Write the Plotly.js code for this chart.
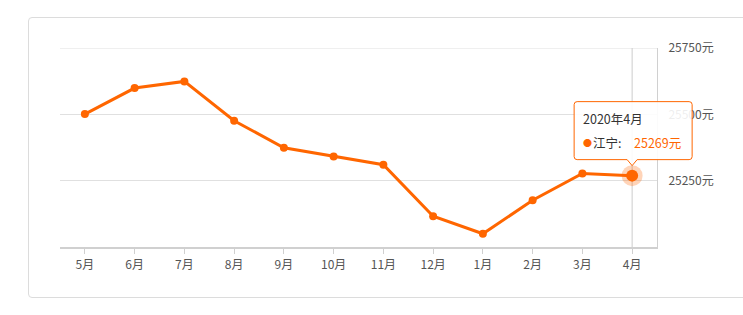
<!DOCTYPE html>
<html>
<head>
<meta charset="utf-8">
<script src="https://cdn.plot.ly/plotly-3.0.1.min.js"></script>
<style>
html,body{margin:0;padding:0;background:#fff;}
#wrap{position:relative;width:743px;height:315px;overflow:hidden;}
#frame{position:absolute;left:28px;top:17px;width:760px;height:281px;border:1px solid #dcdcdc;border-radius:4px;box-sizing:border-box;}
#chart{position:absolute;left:0;top:0;width:743px;height:315px;}
</style>
</head>
<body>
<div id="wrap"><div id="frame"></div><div id="chart"></div></div>
<script>
var months = ['5月','6月','7月','8月','9月','10月','11月','12月','1月','2月','3月','4月'];
var prices = [25501, 25599, 25624, 25476, 25374, 25341, 25310, 25116, 25050, 25176, 25277, 25269];
var yTickVals = [25250, 25500, 25750];
var yTickText = ['25250元', '25500元', '25750元'];
var seriesName = '江宁';
var tipTitle = '2020年4月';

var orange = '#ff6600';
var font = '"Noto Sans CJK SC", "Microsoft YaHei", sans-serif';
var lastIdx = prices.length - 1;
var lastVal = prices[lastIdx];
var yMin = 25000, yMax = 25750;
var xMin = -0.5, xMax = months.length - 0.5;
var px = (lastIdx - xMin) / (xMax - xMin);
var py = (lastVal - yMin) / (yMax - yMin);

var traces = [
  {
    x: months, y: prices, type: 'scatter', mode: 'lines+markers',
    line: {color: orange, width: 3},
    marker: {color: orange, size: 8},
    hoverinfo: 'skip', cliponaxis: false
  },
  {
    x: [months[lastIdx]], y: [lastVal], type: 'scatter', mode: 'markers',
    marker: {color: 'rgba(255,102,0,0.28)', size: 21},
    hoverinfo: 'skip', cliponaxis: false
  },
  {
    x: [months[lastIdx]], y: [lastVal], type: 'scatter', mode: 'markers',
    marker: {color: orange, size: 12},
    hoverinfo: 'skip', cliponaxis: false
  }
];

var tipPath = 'M -55,16 L -5,16 L 0,10 L 5,16 L 57,16 Q 60,16 60,19 L 60,71 Q 60,74 57,74 L -55,74 Q -58,74 -58,71 L -58,19 Q -58,16 -55,16 Z';

var layout = {
  width: 743, height: 315,
  margin: {l: 60, r: 86, t: 47.5, b: 67.5},
  paper_bgcolor: 'rgba(0,0,0,0)', plot_bgcolor: 'rgba(0,0,0,0)',
  showlegend: false, hovermode: false,
  font: {family: font, size: 12, color: '#555'},
  xaxis: {
    type: 'category', range: [xMin, xMax], fixedrange: true,
    showgrid: false, zeroline: false,
    showline: true, linecolor: '#d0d0d0', linewidth: 2,
    ticks: 'outside', ticklen: 5, tickcolor: '#d0d0d0', tickwidth: 1,
    tickfont: {family: font, size: 12, color: '#555'},
    ticklabelstandoff: 1
  },
  yaxis: {
    side: 'right', range: [yMin, yMax], fixedrange: true,
    tickvals: yTickVals, ticktext: yTickText,
    showgrid: true, gridcolor: '#e0e0e0', gridwidth: 1,
    zeroline: false, showline: true, linecolor: '#d0d0d0', linewidth: 1,
    ticks: '', ticklabelstandoff: 8,
    tickfont: {family: font, size: 12, color: '#555'}
  },
  shapes: [
    {type: 'line', xref: 'paper', yref: 'y', x0: 0, x1: 1,
     y0: yTickVals[yTickVals.length - 1], y1: yTickVals[yTickVals.length - 1],
     line: {color: '#e0e0e0', width: 1}, layer: 'below'},
    {type: 'line', xref: 'x', yref: 'paper', x0: lastIdx, x1: lastIdx, y0: 0, y1: 1,
     line: {color: '#cccccc', width: 1}, layer: 'below'},
    {type: 'path', xref: 'paper', yref: 'paper', xsizemode: 'pixel', ysizemode: 'pixel',
     xanchor: px, yanchor: py, path: tipPath,
     fillcolor: 'rgba(255,255,255,0.9)', line: {color: orange, width: 1}, layer: 'above'}
  ],
  annotations: [
    {xref: 'x', yref: 'y', x: lastIdx, y: lastVal, xshift: -51, yshift: 57,
     xanchor: 'left', yanchor: 'middle', showarrow: false, text: tipTitle,
     font: {family: font, size: 12.5, color: '#333'}},
    {xref: 'x', yref: 'y', x: lastIdx, y: lastVal, xshift: -51, yshift: 33,
     xanchor: 'left', yanchor: 'middle', showarrow: false, text: '●',
     font: {family: font, size: 9, color: orange}},
    {xref: 'x', yref: 'y', x: lastIdx, y: lastVal, xshift: -41, yshift: 33,
     xanchor: 'left', yanchor: 'middle', showarrow: false, text: seriesName + ':',
     font: {family: font, size: 12.5, color: '#333'}},
    {xref: 'x', yref: 'y', x: lastIdx, y: lastVal, xshift: 0, yshift: 33,
     xanchor: 'left', yanchor: 'middle', showarrow: false, text: lastVal + '元',
     font: {family: font, size: 12.5, color: orange}}
  ]
};

Plotly.newPlot('chart', traces, layout, {displayModeBar: false, staticPlot: true});
</script>
</body>
</html>
